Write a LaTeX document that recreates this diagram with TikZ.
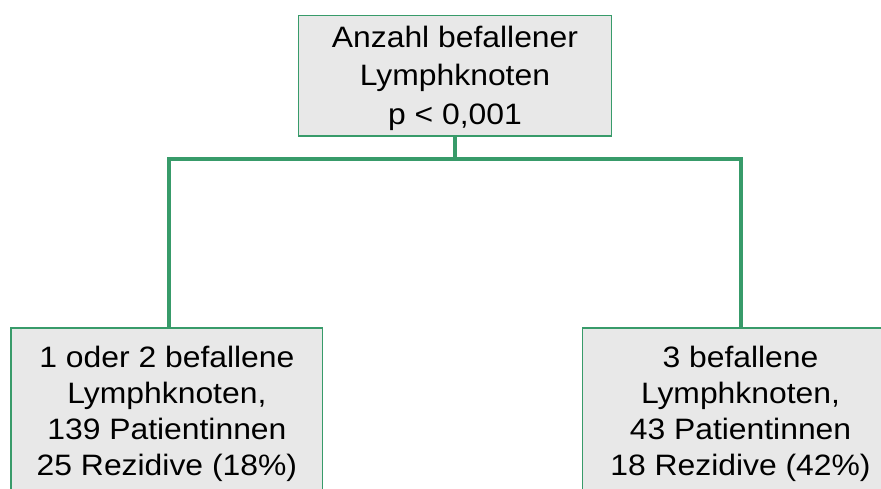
\documentclass[tikz,border=0pt]{standalone}
\usepackage{fontspec}
\setmainfont{Liberation Sans}[FakeStretch=1.08]
\usetikzlibrary{calc}
\definecolor{boxgreen}{RGB}{56,155,106}
\definecolor{boxfill}{RGB}{232,232,232}
\begin{document}
\begin{tikzpicture}[x=1pt,y=-1pt,
  box/.style={draw=boxgreen, line width=1.3pt, fill=boxfill, inner sep=0pt,
    align=center},
  link/.style={draw=boxgreen, line width=4.5pt}]
\useasboundingbox (0,0) rectangle (881,488);
\clip (0,0) rectangle (881,488);
\node[box, minimum width=313pt, minimum height=120.3pt,
  font=\fontsize{29.5}{38.5}\selectfont, text height=106.9pt, text depth=10pt]
  (top) at (455,75.9)
  {Anzahl befallener\\Lymphknoten\\p < 0,001};
\node[box, minimum width=311.7pt, minimum height=172pt,
  font=\fontsize{29.5}{36}\selectfont, text height=128pt, text depth=6pt]
  (left) at (166.9,414)
  {1 oder 2 befallene\\Lymphknoten,\\139 Patientinnen\\25 Rezidive (18\%)};
\node[box, minimum width=316pt, minimum height=172pt,
  font=\fontsize{29.5}{36}\selectfont, text height=128pt, text depth=6pt]
  (right) at (740.5,414)
  {3 befallene\\Lymphknoten,\\43 Patientinnen\\18 Rezidive (42\%)};
\coordinate (split) at ($(top.south)+(0,22.5)$);
\draw[link] (top.south) -- (split);
\draw[link] (split) -| ([xshift=2.3pt]left.north);
\draw[link] (split) -| ([xshift=0.5pt]right.north);
\end{tikzpicture}
\end{document}
